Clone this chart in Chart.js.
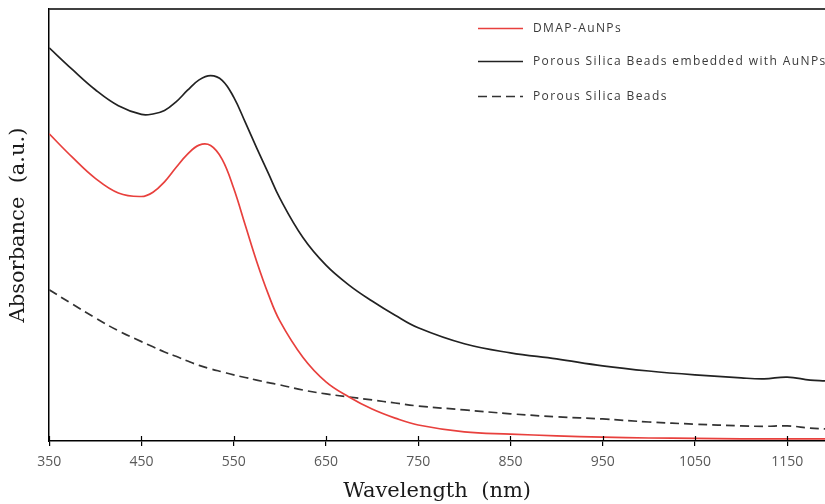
<!DOCTYPE html>
<html>
<head>
<meta charset="utf-8">
<script src="https://cdn.jsdelivr.net/npm/chart.js@4.4.1/dist/chart.umd.min.js"></script>
<style>
    body { margin: 0; background: #fff; overflow: hidden; }
</style>
</head>
<body>
<canvas id="grafico" width="825" height="504"></canvas>
<script>
// Datos (absorbancia en unidades arbitrarias, 0-100)
const longitudes = [350, 375, 400, 425, 450, 462.5, 475, 487.5, 500, 512.5, 525, 537.5, 550, 562.5, 575, 587.5,
                    600, 625, 650, 675, 700, 725, 750, 800, 850, 900, 950, 1000, 1050, 1100, 1125, 1150, 1175, 1191];

const dmapAuNPs = [71.1, 65.7, 60.8, 57.4, 56.6, 57.6, 60.0, 63.3, 66.4, 68.5, 68.4, 65.2, 58.5, 50.0, 41.5, 34.0,
                   27.8, 19.4, 13.7, 10.2, 7.4, 5.3, 3.7, 2.1, 1.6, 1.2, 0.9, 0.7, 0.6, 0.5, 0.5, 0.5, 0.5, 0.5];

const silicaConAuNPs = [91.0, 86.0, 81.3, 77.6, 75.6, 75.7, 76.5, 78.5, 81.2, 83.6, 84.6, 83.5, 79.6, 73.8, 67.8, 62.0,
                        56.2, 47.1, 40.7, 36.1, 32.4, 29.1, 26.2, 22.5, 20.4, 19.0, 17.4, 16.2, 15.3, 14.6, 14.4, 14.8, 14.1, 13.9];

const silicaSola = [35.0, 31.7, 28.5, 25.5, 23.0, 21.8, 20.6, 19.6, 18.5, 17.5, 16.7, 16.0, 15.3, 14.7, 14.1, 13.5,
                    13.0, 11.8, 10.9, 10.2, 9.5, 8.8, 8.1, 7.2, 6.3, 5.6, 5.1, 4.4, 3.9, 3.5, 3.4, 3.5, 3.0, 2.8];

const etiquetasX = [350, 450, 550, 650, 750, 850, 950, 1050, 1150];

function puntos(valores) {
    return longitudes.map((x, i) => ({ x: x, y: valores[i] }));
}

// marcas que cruzan el eje, borde superior y leyenda dibujada a mano
const extras = {
    id: 'extras',
    afterDraw(chart) {
        const ctx = chart.ctx;
        const area = chart.chartArea;
        const escalaX = chart.scales.x;
        ctx.save();
        ctx.strokeStyle = '#000';
        ctx.lineWidth = 1.5;
        ctx.beginPath();
        ctx.moveTo(area.left, area.top);
        ctx.lineTo(area.right, area.top);
        ctx.stroke();
        ctx.lineWidth = 1.2;
        etiquetasX.forEach(v => {
            const px = Math.round(escalaX.getPixelForValue(v)) + 0.5;
            ctx.beginPath();
            ctx.moveTo(px, area.bottom);
            ctx.lineTo(px, area.bottom - 5);
            ctx.stroke();
        });

        // leyenda
        const filas = [28, 61, 96];
        ctx.font = '12px "Open Sans"';
        ctx.letterSpacing = '1.4px';
        ctx.textBaseline = 'middle';
        chart.data.datasets.forEach((ds, i) => {
            const y = filas[i] + 0.5;
            ctx.strokeStyle = ds.borderColor;
            ctx.lineWidth = 1.6;
            ctx.setLineDash(ds.borderDash || []);
            ctx.beginPath();
            ctx.moveTo(478, y);
            ctx.lineTo(523, y);
            ctx.stroke();
            ctx.setLineDash([]);
            ctx.fillStyle = '#3a3a3a';
            ctx.fillText(ds.label, 533, y);
        });
        ctx.restore();
    }
};

const config = {
    type: 'line',
    data: {
        datasets: [{
            label: 'DMAP-AuNPs',
            data: puntos(dmapAuNPs),
            borderColor: '#e8403d',
            borderWidth: 1.7
        }, {
            label: 'Porous Silica Beads embedded with AuNPs',
            data: puntos(silicaConAuNPs),
            borderColor: '#222222',
            borderWidth: 1.7
        }, {
            label: 'Porous Silica Beads',
            data: puntos(silicaSola),
            borderColor: '#333333',
            borderWidth: 1.7,
            borderDash: [9, 5]
        }]
    },
    options: {
        responsive: false,
        animation: false,
        layout: { padding: { top: 9, right: 0, bottom: 0, left: 0 } },
        elements: {
            point: { radius: 0 },
            line: { tension: 0.4, fill: false }
        },
        plugins: {
            legend: { display: false },
            tooltip: { enabled: false }
        },
        scales: {
            x: {
                type: 'linear',
                min: 350,
                max: 1191,
                afterBuildTicks(escala) {
                    escala.ticks = etiquetasX.map(v => ({ value: v }));
                },
                border: { color: '#000', width: 1.5 },
                grid: { drawOnChartArea: false, tickLength: 5, color: '#000', lineWidth: 1.2 },
                ticks: {
                    padding: 8,
                    color: '#595959',
                    font: { family: 'Open Sans', size: 14 },
                    maxRotation: 0,
                    callback: v => String(v)
                },
                title: {
                    display: true,
                    text: 'Wavelength  (nm)',
                    color: '#1a1a1a',
                    font: { family: 'DejaVu Serif', size: 21 },
                    padding: { top: 0, bottom: 0 }
                }
            },
            y: {
                min: 0,
                max: 100,
                border: { color: '#000', width: 1.5 },
                grid: { display: false },
                ticks: { display: false },
                title: {
                    display: true,
                    text: 'Absorbance  (a.u.)',
                    color: '#1a1a1a',
                    font: { family: 'DejaVu Serif', size: 21 },
                    padding: { top: 6, bottom: 10 }
                }
            }
        }
    },
    plugins: [extras]
};

new Chart(document.getElementById('grafico').getContext('2d'), config);
</script>
</body>
</html>
